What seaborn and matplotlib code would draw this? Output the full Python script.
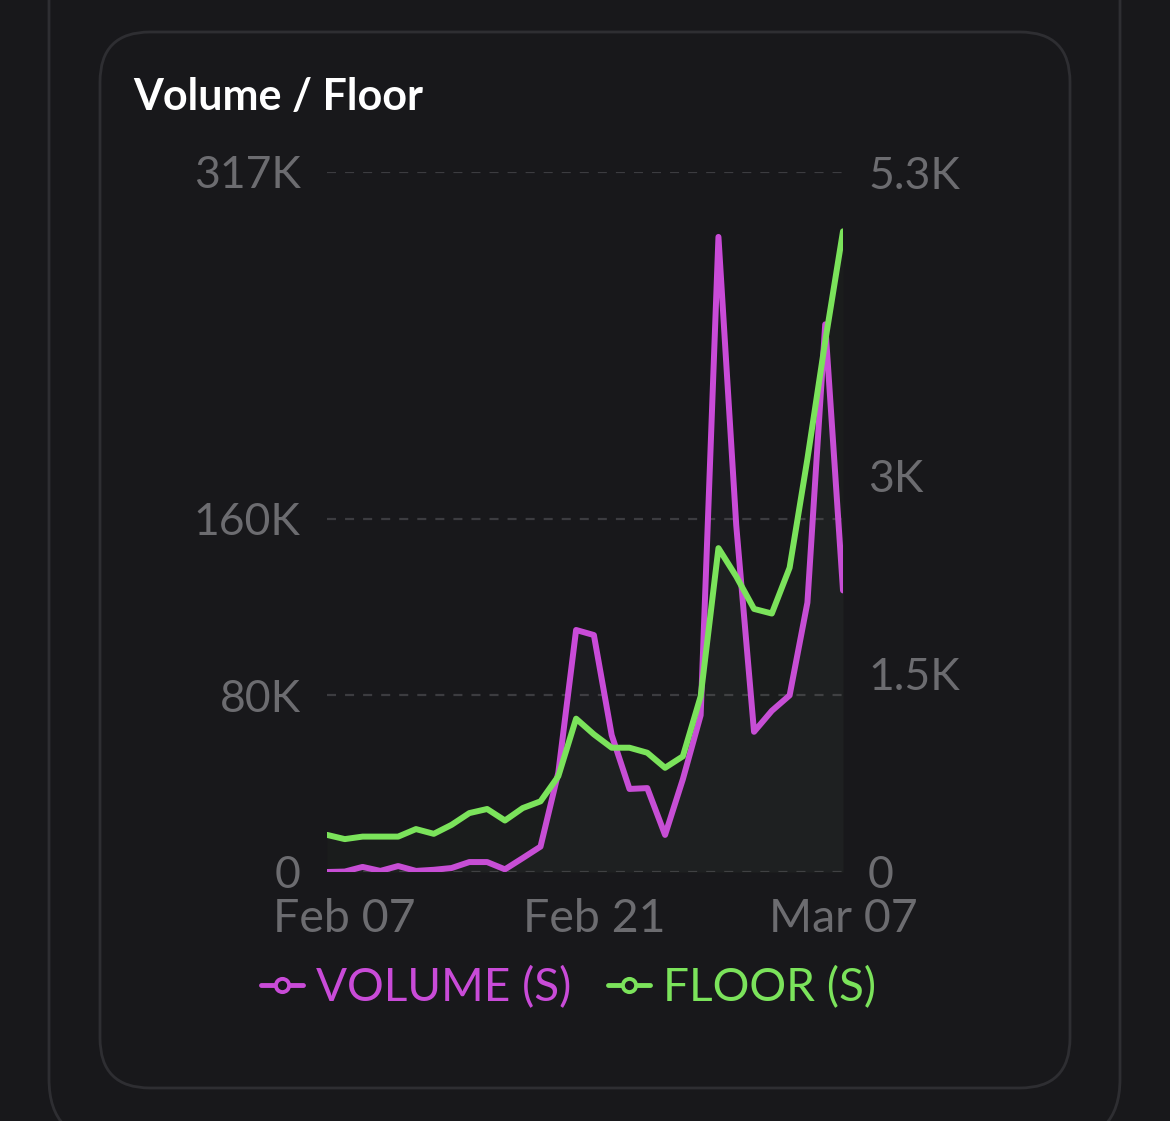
"""
Volume / Floor chart (dark card)
"""

import numpy as np
import pandas as pd
import matplotlib

matplotlib.use("Agg")
import matplotlib.pyplot as plt
from matplotlib.lines import Line2D
from matplotlib.patches import FancyBboxPatch
from matplotlib.transforms import IdentityTransform
import seaborn as sns

# dados diários (06 fev -> 07 mar)
dates = pd.date_range("2023-02-06", "2023-03-07", freq="D")
volume = [0, 200, 2300, 500, 2700, 500, 1000, 1800, 4500, 4500,
          1200, 6300, 11500, 45000, 109600, 107300, 62000, 37600, 38000, 16800,
          42000, 71000, 287600, 157000, 63500, 73000, 80000, 122000, 248000, 127500]
floor = [281, 249, 268, 268, 268, 325, 289, 357, 446, 477,
         390, 484, 535, 725, 1161, 1042, 941, 941, 903, 789,
         876, 1330, 2452, 2238, 1992, 1957, 2304, 3128, 4018, 4851]

left_ticks = [0, 80000, 160000, 317000]
left_labels = ["0", "80K", "160K", "317K"]
right_ticks = [0, 1500, 3000, 5300]
right_labels = ["0", "1.5K", "3K", "5.3K"]
x_ticks = ["2023-02-07", "2023-02-21", "2023-03-07"]
series_labels = ["VOLUME (S)", "FLOOR (S)"]

W, H = 1170, 1121
BG = "#18181b"
BORDER = "#2e2e32"
GRID = "#3c3c40"
TICK = "#6c6c70"
PURPLE = "#c94bd8"
GREEN = "#7be35b"

df = pd.DataFrame({"date": dates, "volume": volume, "floor": floor})

sns.set_theme(style="dark")
plt.rcParams["font.family"] = ["Lato", "DejaVu Sans"]
plt.rcParams["lines.scale_dashes"] = False

fig = plt.figure(figsize=(W / 100, H / 100), dpi=100, facecolor=BG)

# cartão e painel externo (coordenadas em pixels)
fig.add_artist(FancyBboxPatch((49, -20), 1071, 1300,
                              boxstyle="round,pad=0,rounding_size=62",
                              transform=IdentityTransform(), facecolor="none",
                              edgecolor=BORDER, lw=2))
fig.add_artist(FancyBboxPatch((100, 33), 970, 1056,
                              boxstyle="round,pad=0,rounding_size=50",
                              transform=IdentityTransform(), facecolor="none",
                              edgecolor=BORDER, lw=2))

ax = fig.add_axes([327 / W, 1 - 872 / H, 516 / W, 700 / H])
ax.set_facecolor(BG)
ax2 = ax.twinx()

# volume (eixo esquerdo)
ax.fill_between(df["date"], df["volume"], color="#8a7a90", alpha=0.045, lw=0)
sns.lineplot(data=df, x="date", y="volume", ax=ax, color=PURPLE, lw=4.3,
             solid_joinstyle="round", solid_capstyle="round")

# floor (eixo direito)
ax2.fill_between(df["date"], df["floor"], color=GREEN, alpha=0.025, lw=0)
sns.lineplot(data=df, x="date", y="floor", ax=ax2, color=GREEN, lw=4.3,
             solid_joinstyle="round", solid_capstyle="round")

ax.set_xlim(dates[0], dates[-1])
ax.set_ylim(0, 317000)
ax2.set_ylim(0, 5300)

ax.set_yticks(left_ticks)
ax.set_yticklabels(left_labels)
ax2.set_yticks(right_ticks)
ax2.set_yticklabels(right_labels)
xt = pd.to_datetime(x_ticks)
ax.set_xticks(xt)
ax.set_xticklabels([d.strftime("%b %d") for d in xt])

ax.grid(False)
ax2.grid(False)
for v in left_ticks:
    ax.axhline(v, color=GRID, lw=1.6, ls=(0, (6.5, 6.5)), zorder=0.5)

for a in (ax, ax2):
    a.set_xlabel("")
    a.set_ylabel("")
    for s in a.spines.values():
        s.set_visible(False)
    a.tick_params(axis="both", length=0, labelsize=32, labelcolor=TICK)
ax.tick_params(axis="x", labelsize=33.5, pad=19)
ax.tick_params(axis="y", pad=19)
ax2.tick_params(axis="y", pad=18)
for lab in ax.get_yticklabels() + ax2.get_yticklabels():
    if lab.get_text() == "0":
        lab.set_verticalalignment("center_baseline")

fig.text(133 / W, 1 - 97 / H, "Volume / Floor", color="white",
         fontsize=31, fontweight="bold", ha="left", va="center")

handles = [
    Line2D([], [], color=c, lw=3.5, marker="o", markersize=9.5,
           markerfacecolor=BG, markeredgecolor=c, markeredgewidth=2.8)
    for c in (PURPLE, GREEN)
]
fig.legend(handles, series_labels, loc="center",
           bbox_to_anchor=(569 / W, 1 - 988 / H), ncol=2, frameon=False,
           fontsize=33, handlelength=0.9, handletextpad=0.3,
           columnspacing=0.8, labelcolor="linecolor")

fig.savefig("out.png", dpi=100, facecolor=BG)
